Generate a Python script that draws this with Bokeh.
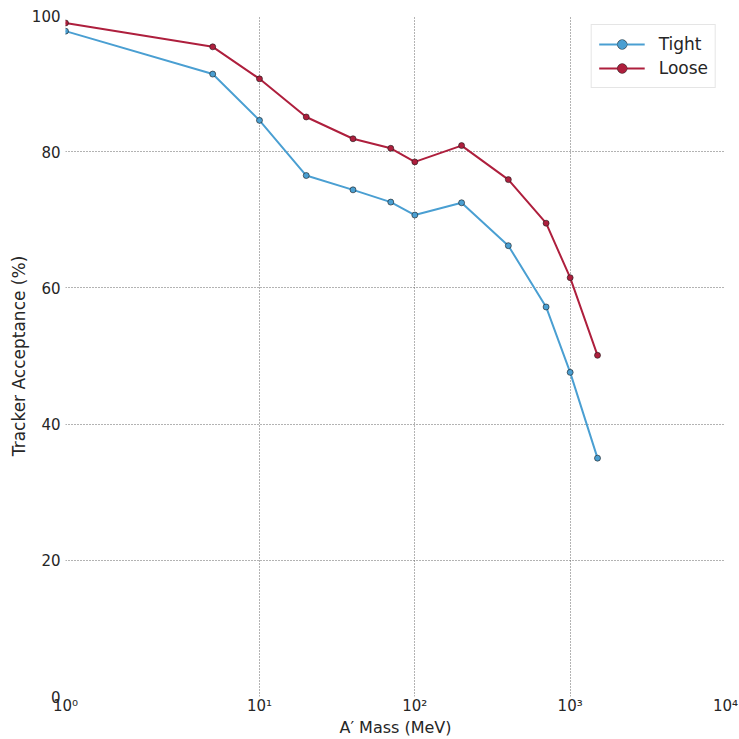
from bokeh.plotting import figure
from bokeh.models import Range1d, FixedTicker, Legend, LegendItem, ColumnDataSource
from bokeh.embed import file_html
from bokeh.resources import INLINE

# ---- data ----
mass = [0.564, 5, 10, 20, 40, 70, 100, 200, 400, 700, 1000, 1500]
tight = [97.7, 91.4, 84.6, 76.5, 74.4, 72.6, 70.7, 72.5, 66.2, 57.2, 47.6, 35.0]
loose = [98.9, 95.4, 90.7, 85.1, 81.9, 80.5, 78.5, 80.9, 75.9, 69.5, 61.5, 50.1]
x_ticks = [0.564, 10, 100, 1000, 10000]
x_tick_labels = ["10\u2070", "10\u00b9", "10\u00b2", "10\u00b3", "10\u2074"]
y_ticks = [0, 20, 40, 60, 80, 100]
series_names = ["Tight", "Loose"]

BLUE = "#4a9fd2"
RED = "#ae1f3d"
FONT = "DejaVu Sans"
TXT = "#262626"

p = figure(width=739, height=739, x_axis_type="log",
           x_range=Range1d(0.564, 10000), y_range=Range1d(0, 100),
           output_backend="svg", toolbar_location=None,
           min_border_left=65, min_border_top=15, min_border_right=14, min_border_bottom=40)

p.outline_line_color = None
p.background_fill_color = "white"

src_t = ColumnDataSource(dict(x=mass, y=tight))
src_l = ColumnDataSource(dict(x=mass, y=loose))

items = []
for src, col, name in [(src_t, BLUE, series_names[0]), (src_l, RED, series_names[1])]:
    ln = p.line("x", "y", source=src, line_color=col, line_width=2)
    sc = p.scatter("x", "y", source=src, size=6, fill_color=col,
                   line_color="#1a1a1a", line_alpha=0.6, line_width=1)
    # error bars are negligibly small at the data points (size 0); the legend shows them
    eb = p.scatter("x", "y", source=src, marker="cross", size=0,
                   line_color=col, line_width=2)
    items.append(LegendItem(label=name, renderers=[ln, sc, eb]))

legend = Legend(items=items, location="top_right")
legend.label_text_font = FONT
legend.label_text_font_size = "17px"
legend.label_text_color = TXT
legend.glyph_width = 46
legend.glyph_height = 24
legend.label_standoff = 14
legend.spacing = 0
legend.padding = 7
legend.margin = 9
legend.border_line_color = "#cccccc"
legend.border_line_width = 1
legend.background_fill_alpha = 1.0
p.add_layout(legend)

# axes
p.xaxis.ticker = FixedTicker(ticks=x_ticks)
p.xaxis.major_label_overrides = {t: l for t, l in zip(x_ticks, x_tick_labels)}
p.yaxis.ticker = FixedTicker(ticks=y_ticks)

for ax in (p.xaxis[0], p.yaxis[0]):
    ax.axis_line_color = None
    ax.major_tick_line_color = None
    ax.minor_tick_line_color = None
    ax.major_tick_out = 0
    ax.major_tick_in = 0
    ax.minor_tick_out = 0
    ax.minor_tick_in = 0
    ax.major_label_text_font = FONT
    ax.major_label_text_font_size = "15px"
    ax.major_label_text_color = TXT
    ax.axis_label_text_font = FONT
    ax.axis_label_text_font_size = "17px"
    ax.axis_label_text_font_style = "normal"
    ax.axis_label_text_color = TXT

p.xaxis.axis_label = "A\u2032 Mass (MeV)"
p.xaxis.axis_label_text_font_size = "16px"
p.yaxis.axis_label = "Tracker Acceptance (%)"
p.xaxis.major_label_standoff = 0
p.xaxis.axis_label_standoff = 0
p.yaxis.major_label_standoff = 5
p.yaxis.axis_label_standoff = 0

for g in (p.xgrid[0], p.ygrid[0]):
    g.grid_line_color = "#666666"
    g.grid_line_dash = "1 2"
    g.grid_line_width = 1

open("out.html", "w").write(file_html(p, INLINE))
